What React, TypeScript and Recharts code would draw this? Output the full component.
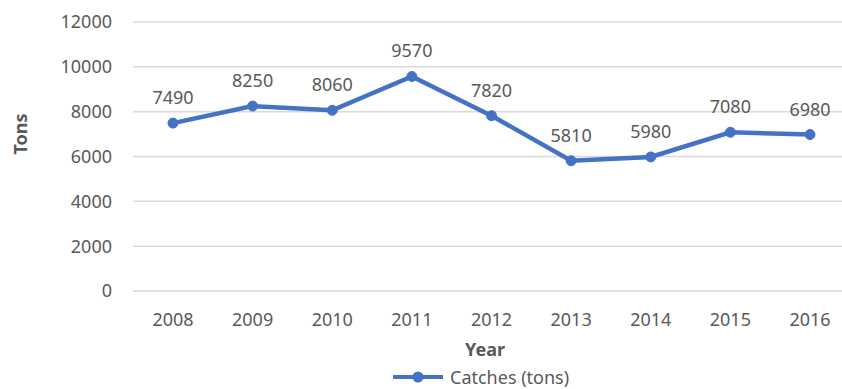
import { LineChart, Line, XAxis, YAxis, CartesianGrid, LabelList } from "recharts";

// Catches per year
const years = ["2008", "2009", "2010", "2011", "2012", "2013", "2014", "2015", "2016"];
const catches = [7490, 8250, 8060, 9570, 7820, 5810, 5980, 7080, 6980];
const yTicks = [0, 2000, 4000, 6000, 8000, 10000, 12000];

const data = years.map((year, i) => ({ year, catches: catches[i] }));

const FONT = "'Noto Sans', 'Open Sans', sans-serif";
const GRAY = "#595959";
const BLUE = "#4472C4";

export default function App() {
    return (
        <div
            style={{
                position: "absolute",
                top: 0,
                left: 0,
                width: 842,
                height: 389,
                overflow: "hidden",
                background: "#fff",
            }}
        >
            <LineChart
                width={858}
                height={389}
                data={data}
                margin={{ top: 22, right: 8, left: 0, bottom: 0 }}
            >
                <CartesianGrid vertical={false} stroke="#d9d9d9" strokeWidth={1.5} />
                <XAxis
                    dataKey="year"
                    axisLine={false}
                    tickLine={false}
                    tickSize={0}
                    tickMargin={22}
                    height={98}
                    padding={{ left: 40, right: 40 }}
                    tick={{ fill: GRAY, fontSize: 18, fontFamily: FONT }}
                    label={({ viewBox }: any) => (
                        <text
                            x={485}
                            y={viewBox.y + 65}
                            textAnchor="middle"
                            fill={GRAY}
                            fontSize={18}
                            fontWeight="bold"
                            fontFamily={FONT}
                        >
                            Year
                        </text>
                    )}
                />
                <YAxis
                    domain={[0, 12000]}
                    ticks={yTicks}
                    axisLine={false}
                    tickLine={false}
                    tickSize={0}
                    tickMargin={21}
                    width={133}
                    tick={{ fill: GRAY, fontSize: 18, fontFamily: FONT }}
                    label={() => (
                        <text
                            x={27}
                            y={134}
                            transform="rotate(-90, 27, 134)"
                            textAnchor="middle"
                            fill={GRAY}
                            fontSize={18}
                            fontWeight="bold"
                            fontFamily={FONT}
                        >
                            Tons
                        </text>
                    )}
                />
                <Line
                    type="linear"
                    dataKey="catches"
                    name="Catches (tons)"
                    stroke={BLUE}
                    strokeWidth={4.5}
                    dot={{ r: 5, fill: BLUE, stroke: BLUE, strokeWidth: 1 }}
                    isAnimationActive={false}
                >
                    <LabelList
                        dataKey="catches"
                        position="top"
                        offset={19}
                        fill={GRAY}
                        fontSize={18}
                        fontFamily={FONT}
                    />
                </Line>
            </LineChart>
            {/* legend, Excel style */}
            <div
                style={{
                    position: "absolute",
                    top: 366,
                    left: 393,
                    height: 22,
                    lineHeight: "22px",
                    display: "flex",
                    alignItems: "center",
                    fontFamily: FONT,
                    fontSize: 18,
                    color: GRAY,
                    whiteSpace: "nowrap",
                }}
            >
                <svg width={50} height={14} style={{ marginRight: 7 }}>
                    <line x1={0} y1={7} x2={50} y2={7} stroke={BLUE} strokeWidth={4} />
                    <circle cx={25} cy={7} r={5.5} fill={BLUE} />
                </svg>
                Catches (tons)
            </div>
        </div>
    );
}
